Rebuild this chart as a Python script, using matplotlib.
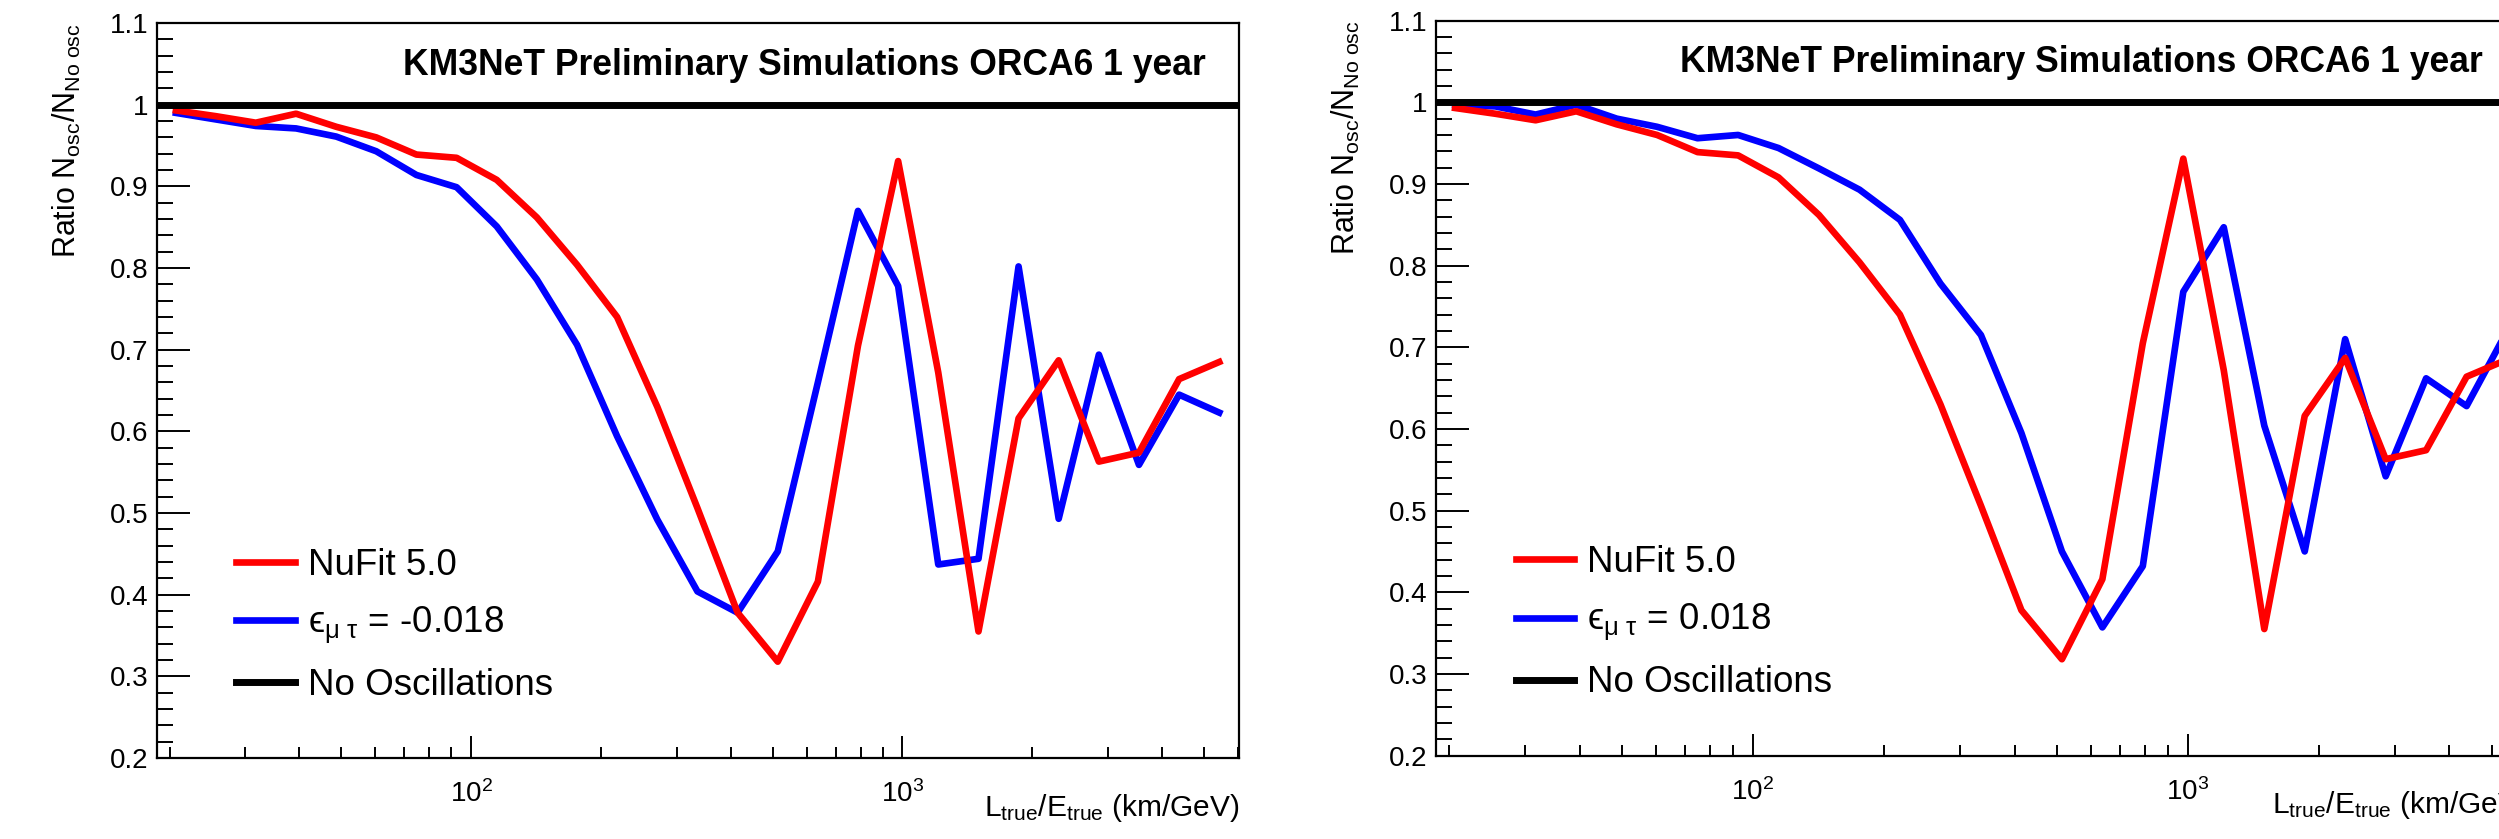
import matplotlib
matplotlib.use("Agg")
import matplotlib.pyplot as plt
from matplotlib.ticker import FixedLocator, LogLocator, NullFormatter

plt.rcParams['font.family'] = ['Liberation Sans', 'DejaVu Sans']
plt.rcParams['mathtext.fontset'] = 'custom'
plt.rcParams['mathtext.rm'] = 'Liberation Sans'
plt.rcParams['mathtext.it'] = 'Liberation Sans:italic'
plt.rcParams['mathtext.default'] = 'regular'

# L/E bin centres (km/GeV)
l_over_e = [20.7, 25.6, 31.7, 39.3, 48.7, 60.3, 74.7, 92.6, 114.7, 142.1,
            176.1, 218.1, 270.3, 334.9, 414.9, 514.1, 636.9, 788.9, 977.5,
            1211, 1501, 1859, 2303, 2854, 3535, 4380, 5427]

# NuFit 5.0 (same curve in both panels)
nufit = [0.993, 0.986, 0.978, 0.989, 0.973, 0.960, 0.939, 0.935, 0.908, 0.862,
         0.804, 0.740, 0.630, 0.506, 0.378, 0.318, 0.416, 0.705, 0.931,
         0.672, 0.355, 0.616, 0.687, 0.563, 0.574, 0.664, 0.685]

# eps_mu_tau = -0.018 (left) and +0.018 (right)
eps_minus = [0.990, 0.982, 0.974, 0.971, 0.961, 0.943, 0.914, 0.899, 0.851, 0.786,
             0.706, 0.594, 0.492, 0.404, 0.378, 0.453, 0.660, 0.870, 0.778,
             0.437, 0.444, 0.802, 0.493, 0.694, 0.559, 0.645, 0.623]
eps_plus = [0.997, 0.995, 0.985, 0.997, 0.980, 0.970, 0.956, 0.960, 0.944, 0.919,
            0.893, 0.856, 0.778, 0.715, 0.595, 0.450, 0.357, 0.432, 0.768,
            0.847, 0.604, 0.450, 0.710, 0.542, 0.662, 0.628, 0.720]

no_osc = 1.0

y_ticks = [0.2, 0.3, 0.4, 0.5, 0.6, 0.7, 0.8, 0.9, 1.0, 1.1]
y_tick_labels = ['0.2', '0.3', '0.4', '0.5', '0.6', '0.7', '0.8', '0.9', '1', '1.1']
x_ticks = [100, 1000]
x_tick_labels = [r'$10^{2}$', r'$10^{3}$']

title = 'KM3NeT Preliminary Simulations ORCA6 1 year'

panels = [
    # series, label, axes rect, title x
    (eps_minus, '$\u03f5_{\u03bc\\ \u03c4}$ = -0.018', [0.0628, 0.0965, 0.4330, 0.8760], 0.9695),
    (eps_plus, '$\u03f5_{\u03bc\\ \u03c4}$ = 0.018', [0.5746, 0.0994, 0.4366, 0.8760], 0.9597),
]

fig = plt.figure(figsize=(24.99, 8.39), dpi=100)

for series, eps_label, rect, title_x in panels:
    ax = fig.add_axes(rect)
    ax.plot(l_over_e, series, color='#0000ff', lw=4.8, label=eps_label, zorder=2)
    ax.plot(l_over_e, nufit, color='#ff0000', lw=4.8, label='NuFit 5.0', zorder=3)
    ax.axhline(no_osc, color='black', lw=5, label='No Oscillations', zorder=4)

    ax.set_xscale('log')
    ax.set_xlim(18.7, 6030)
    ax.set_ylim(0.2, 1.1)

    ax.xaxis.set_major_locator(FixedLocator(x_ticks))
    ax.set_xticklabels(x_tick_labels)
    ax.xaxis.set_minor_locator(LogLocator(base=10, subs=range(2, 10)))
    ax.xaxis.set_minor_formatter(NullFormatter())
    ax.yaxis.set_major_locator(FixedLocator(y_ticks))
    ax.set_yticklabels(y_tick_labels)
    ax.yaxis.set_minor_locator(FixedLocator([0.2 + 0.02 * i for i in range(46)]))

    ax.tick_params(axis='x', which='major', direction='in', length=16, width=1.4,
                   top=False, labelsize=20, pad=16)
    ax.tick_params(axis='x', which='minor', direction='in', length=7.6, width=1.4, top=False)
    ax.tick_params(axis='y', which='major', direction='in', length=24, width=1.4,
                   right=False, labelsize=20, pad=6)
    ax.tick_params(axis='y', which='minor', direction='in', length=11.5, width=1.4, right=False)
    for sp in ax.spines.values():
        sp.set_linewidth(1.6)

    ax.set_xlabel(r'L$_{true}$/E$_{true}$ (km/GeV)', fontsize=21.5, loc='right')
    ax.xaxis.set_label_coords(1.0, -0.046)
    ax.set_ylabel(r'Ratio N$_{osc}$/N$_{No\ osc}$', fontsize=22, loc='top')
    ax.yaxis.set_label_coords(-0.068, 1.0)

    ax.text(title_x, 0.93, title, transform=ax.transAxes, ha='right', va='baseline',
            fontsize=25.6, fontweight='bold')

    handles, labels = ax.get_legend_handles_labels()
    order = [1, 0, 2]
    ax.legend([handles[i] for i in order], [labels[i] for i in order],
              loc='lower left', bbox_to_anchor=(0.073, 0.075), frameon=False,
              fontsize=26.5, handlelength=1.6, handletextpad=0.35, labelspacing=0.6,
              borderpad=0, borderaxespad=0)

fig.savefig('out.png', dpi=100)
